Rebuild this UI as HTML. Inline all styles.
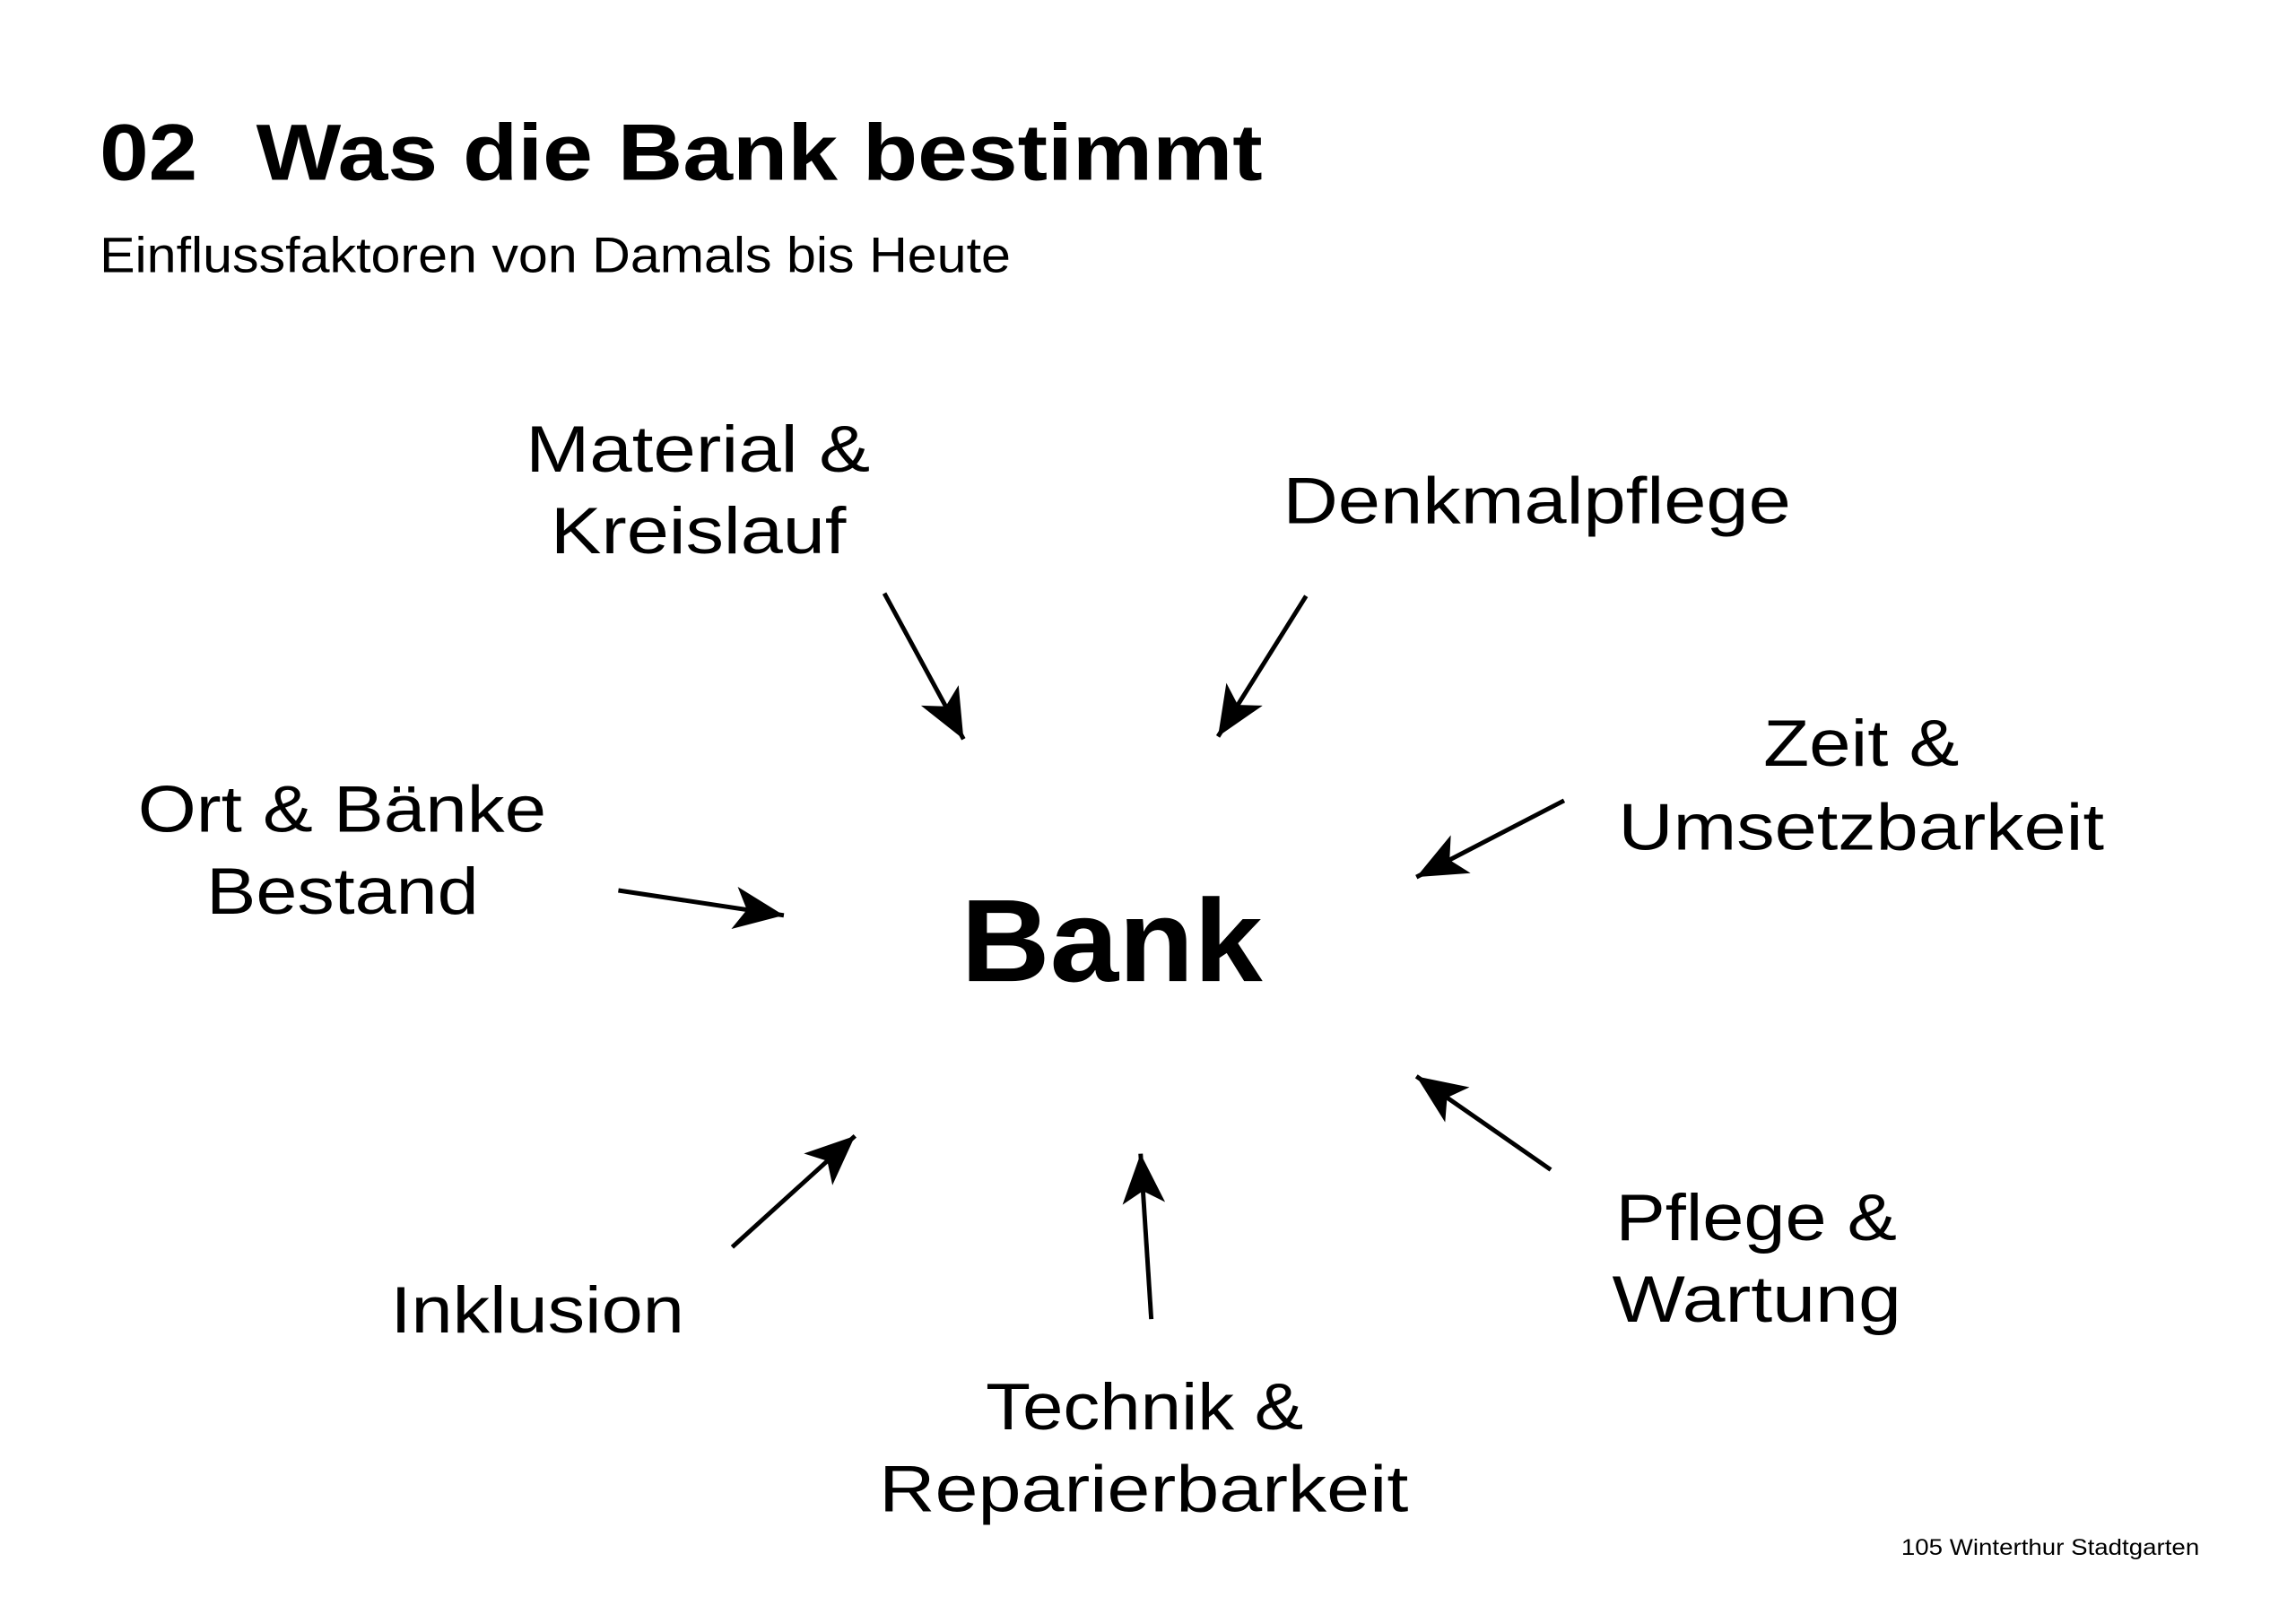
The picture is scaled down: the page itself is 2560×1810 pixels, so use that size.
<!DOCTYPE html>
<html><head><meta charset="utf-8"><style>
html,body{margin:0;padding:0;background:#fff;}
svg{display:block;}
text{font-family:"Liberation Sans","DejaVu Sans",sans-serif;fill:#000;}
</style></head><body>
<svg width="2560" height="1810" viewBox="0 0 2560 1810" xmlns="http://www.w3.org/2000/svg">
<defs>
<marker id="ah" markerUnits="userSpaceOnUse" markerWidth="64" markerHeight="54" refX="56" refY="24" orient="auto">
<path d="M0,0 L56,24 L0,48 L14,24 Z" fill="#000"/>
</marker>
</defs>
<rect width="2560" height="1810" fill="#fff"/>
<g transform="scale(0.992)">
<text x="112" y="202" font-size="90" font-weight="bold" textLength="110" lengthAdjust="spacingAndGlyphs">02</text>
<text x="288" y="202" font-size="90" font-weight="bold" textLength="1131" lengthAdjust="spacingAndGlyphs">Was die Bank bestimmt</text>
<text x="112" y="306" font-size="56" textLength="1024" lengthAdjust="spacingAndGlyphs">Einflussfaktoren von Damals bis Heute</text>

<g font-size="74">
<text x="591" y="530" textLength="387" lengthAdjust="spacingAndGlyphs">Material &amp;</text>
<text x="619" y="622" textLength="332" lengthAdjust="spacingAndGlyphs">Kreislauf</text>
<text x="1442" y="588" textLength="571" lengthAdjust="spacingAndGlyphs">Denkmalpflege</text>
<text x="1982" y="861" textLength="220" lengthAdjust="spacingAndGlyphs">Zeit &amp;</text>
<text x="1819" y="955" textLength="546" lengthAdjust="spacingAndGlyphs">Umsetzbarkeit</text>
<text x="155" y="935" textLength="459" lengthAdjust="spacingAndGlyphs">Ort &amp; Bänke</text>
<text x="232" y="1027" textLength="306" lengthAdjust="spacingAndGlyphs">Bestand</text>
<text x="439" y="1498" textLength="330" lengthAdjust="spacingAndGlyphs">Inklusion</text>
<text x="1108" y="1607" textLength="357" lengthAdjust="spacingAndGlyphs">Technik &amp;</text>
<text x="988" y="1699" textLength="595" lengthAdjust="spacingAndGlyphs">Reparierbarkeit</text>
<text x="1816" y="1394" textLength="316" lengthAdjust="spacingAndGlyphs">Pflege &amp;</text>
<text x="1812" y="1486" textLength="325" lengthAdjust="spacingAndGlyphs">Wartung</text>
</g>
<text x="1080" y="1103" font-size="132" font-weight="bold" textLength="339" lengthAdjust="spacingAndGlyphs">Bank</text>
<text x="2137" y="1748" font-size="25" textLength="335" lengthAdjust="spacingAndGlyphs">105 Winterthur Stadtgarten</text>

<g stroke="#000" stroke-width="5" fill="none" marker-end="url(#ah)">
<line x1="994" y1="667" x2="1083" y2="831"/>
<line x1="1468" y1="670" x2="1369" y2="828"/>
<line x1="1758" y1="900" x2="1592" y2="986"/>
<line x1="695" y1="1001" x2="881" y2="1029"/>
<line x1="823" y1="1402" x2="961" y2="1277"/>
<line x1="1294" y1="1483" x2="1282" y2="1297"/>
<line x1="1743" y1="1315" x2="1592" y2="1210"/>
</g>
</g>
</svg>
</body></html>
